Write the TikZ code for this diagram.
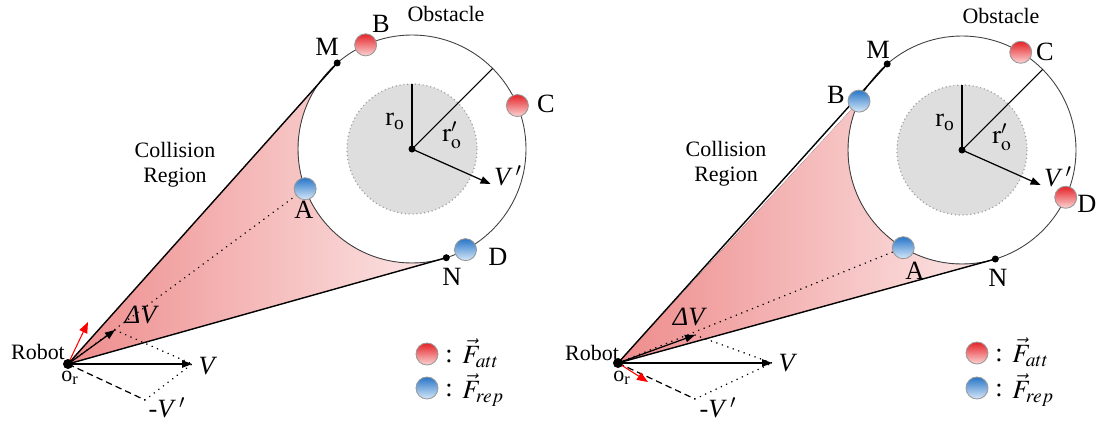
\documentclass[tikz,border=0pt]{standalone}
\usepackage{mathptmx}
\usepackage{fontspec}
\setmainfont{Liberation Serif}
\usetikzlibrary{arrows.meta,calc}
\definecolor{cregA}{RGB}{238,140,140}
\definecolor{cregB}{RGB}{252,232,232}
\definecolor{redtop}{RGB}{228,35,40}
\definecolor{redbot}{RGB}{252,212,212}
\definecolor{bluetop}{RGB}{40,118,200}
\definecolor{bluebot}{RGB}{215,232,248}
\definecolor{diskfill}{RGB}{222,222,222}
\tikzset{
  obst/.style={draw=black!75, line width=0.5pt},
  innerdisk/.style={fill=diskfill, draw=gray!75, dash pattern=on 0.6pt off 1.6pt, line width=0.7pt},
  cdot/.style={circle, fill=black, inner sep=0pt, minimum size=0.14cm},
  robotdot/.style={circle, fill=black, inner sep=0pt, minimum size=0.2cm},
  ball/.style={circle, inner sep=0pt, minimum size=0.44cm, draw=gray!80, line width=0.5pt},
  redball/.style={ball, top color=redtop, bottom color=redbot},
  blueball/.style={ball, top color=bluetop, bottom color=bluebot},
  edgeline/.style={line width=0.8pt, draw=black},
  thinline/.style={line width=0.6pt, draw=black},
  vec/.style={line width=0.7pt, draw=black, -{Triangle[length=0.2cm,width=0.15cm]}},
  redvec/.style={line width=0.6pt, draw=red, -{Triangle[length=0.22cm,width=0.17cm]}},
  dashline/.style={line width=0.7pt, dash pattern=on 0.13cm off 0.08cm},
  dots/.style={line width=0.9pt, dash pattern=on 0.1pt off 3.2pt, line cap=round},
  collision/.style={left color=cregA, right color=cregB},
  ptlabel/.style={font=\fontsize{15}{17}\selectfont},
  txt/.style={font=\fontsize{12.5}{14.5}\selectfont},
  legcolon/.style={font=\fontsize{15}{17}\selectfont, inner sep=0pt},
  legtxt/.style={font=\fontsize{15}{17}\selectfont, anchor=west, inner sep=0pt}
}
\begin{document}
\begin{tikzpicture}[x=0.02cm, y=-0.02cm]
\useasboundingbox (0,0) rectangle (1106,423);

% ================= LEFT =================
\coordinate (Lc) at (412,149);
\coordinate (Lr) at (68,364);
\coordinate (LMp) at ($(Lc)+(229:114)$);
\coordinate (LNp) at ($(Lc)+(72.5:114)$);
\fill[collision] (Lr) -- (LMp) arc[start angle=229, end angle=72.5, radius=114] -- cycle;
\draw[innerdisk] (Lc) circle[radius=65];
\draw[obst] (Lc) circle[radius=114];
\coordinate (Lrtop) at ($(Lc)+(-90:65)$);
\coordinate (Lrout) at ($(Lc)+(-45:114)$);
\coordinate (LVp) at ($(Lc)+(24:86)$);
\draw[thinline] (Lc) -- (Lrtop);
\draw[thinline] (Lc) -- (Lrout);
\draw[vec] (Lc) -- (LVp);
\node[cdot] (Lctr) at (Lc) {};
\node[cdot] (LM) at (LMp) {};
\node[cdot] (LN) at (LNp) {};
\draw[edgeline] (Lr) -- (LM.center);
\draw[edgeline] (Lr) -- (LN.center);
\coordinate (LAp) at ($(Lc)+(159.6:114)$);
\draw[dots] (Lr) -- (LAp);
\node[redball] (LB) at ($(Lc)+(246:114)$) {};
\node[redball] (LC) at ($(Lc)+(337.6:114)$) {};
\node[blueball] (LA) at (LAp) {};
\node[blueball] (LD) at ($(Lc)+(62:114)$) {};
% vectors
\coordinate (LdV) at ($(Lr)+(47,-34)$);
\coordinate (LV) at ($(Lr)+(124,0)$);
\coordinate (LmV) at ($(Lr)+(77,36)$);
\coordinate (Lred) at ($(Lr)+(20,-42)$);
\draw[dots] (LdV) -- (LV);
\draw[dots] (LmV) -- (LV);
\draw[dashline] (Lr) -- (LmV);
\draw[vec] (Lr) -- (LdV);
\draw[vec] (Lr) -- (LV);
\draw[redvec] (Lr) -- (Lred);
\node[robotdot] (Lrob) at (Lr) {};
% labels
\node[txt] (LObs) at (446,14) {Obstacle};
\node[ptlabel] (LBl) at (381,24) {B};
\node[ptlabel] (LMl) at (327,47) {M};
\node[ptlabel] (LCl) at (546,104) {C};
\node[ptlabel] (LAl) at (304,210) {A};
\node[ptlabel] (LDl) at (498,257) {D};
\node[ptlabel] (LNl) at (452,277) {N};
\node[ptlabel] (Lro) at (395,121) {r\textsubscript{o}};
\node[ptlabel] (Lrop) at (452,135) {$\mathrm{r}_{\mathrm{o}}'$};
\node[ptlabel] (LVl) at (508,176) {\textit{V}$\,'$};
\node[txt, align=center] (LColl) at (175,165) {Collision\\Region};
\node[txt] (LRob) at (38,352) {Robot};
\node[txt] (Lor) at (70,378) {o\textsubscript{r}};
\node[ptlabel] (LdVl) at (142,315) {\textit{ΔV}};
\node[ptlabel] (LVlab) at (208,366) {\textit{V}};
\node[ptlabel, inner sep=0pt] (LmVl) at (167,408) {\textit{-V}$\,'$};
\node[redball] (LLr) at (427,354) {};
\node[blueball] (LLb) at (427,388) {};
\node[legcolon] (LLrc) at (449,356) {:};
\node[legcolon] (LLbc) at (449,390) {:};
\node[legtxt] (LLrt) at (462,353) {$\vec{F}_{att}$};
\node[legtxt] (LLbt) at (462,390) {$\vec{F}_{rep}$};

% ================= RIGHT =================
\coordinate (Rc) at (962,150);
\coordinate (Rr) at (618,363);
\coordinate (RMp) at ($(Rc)+(229:114)$);
\coordinate (RNp) at ($(Rc)+(73:114)$);
\coordinate (RBp) at ($(Rc)+(205.4:114)$);
\fill[collision] (Rr) -- (RBp) arc[start angle=205.4, end angle=73, radius=114] -- cycle;
\draw[innerdisk] (Rc) circle[radius=65];
\draw[obst] (Rc) circle[radius=114];
\coordinate (Rrtop) at ($(Rc)+(-90:65)$);
\coordinate (Rrout) at ($(Rc)+(-45:114)$);
\coordinate (RVp) at ($(Rc)+(24:86)$);
\draw[thinline] (Rc) -- (Rrtop);
\draw[thinline] (Rc) -- (Rrout);
\draw[vec] (Rc) -- (RVp);
\node[cdot] (Rctr) at (Rc) {};
\node[cdot] (RM) at (RMp) {};
\node[cdot] (RN) at (RNp) {};
\draw[edgeline] (Rr) -- (RM.center);
\draw[edgeline] (Rr) -- (RN.center);
\coordinate (RAp) at ($(Rc)+(121:114)$);
\draw[dots] (Rr) -- (RAp);
\node[blueball] (RB) at (RBp) {};
\node[redball] (RC) at ($(Rc)+(301:114)$) {};
\node[blueball] (RA) at (RAp) {};
\node[redball] (RD) at ($(Rc)+(24.5:114)$) {};
% vectors
\coordinate (RdV) at ($(Rr)+(77,-28)$);
\coordinate (RV) at ($(Rr)+(154,0)$);
\coordinate (RmV) at ($(Rr)+(77,36)$);
\coordinate (Rred) at ($(Rr)+(30,19)$);
\draw[dots] (RdV) -- (RV);
\draw[dots] (RmV) -- (RV);
\draw[dashline] (Rr) -- (RmV);
\draw[vec] (Rr) -- (RdV);
\draw[vec] (Rr) -- (RV);
\draw[redvec] (Rr) -- (Rred);
\node[robotdot] (Rrob) at (Rr) {};
% labels
\node[txt] (RObs) at (1001,16) {Obstacle};
\node[ptlabel] (RBl) at (836,95) {B};
\node[ptlabel] (RMl) at (878,50) {M};
\node[ptlabel] (RCl) at (1045,52) {C};
\node[ptlabel] (RAl) at (915,271) {A};
\node[ptlabel] (RDl) at (1087,204) {D};
\node[ptlabel] (RNl) at (998,278) {N};
\node[ptlabel] (Rro) at (945,122) {r\textsubscript{o}};
\node[ptlabel] (Rrop) at (1002,137) {$\mathrm{r}_{\mathrm{o}}'$};
\node[ptlabel] (RVl) at (1058,177) {\textit{V}$\,'$};
\node[txt, align=center] (RColl) at (726,164) {Collision\\Region};
\node[txt] (RRob) at (592,353) {Robot};
\node[txt] (Ror) at (622,378) {o\textsubscript{r}};
\node[ptlabel] (RdVl) at (690,317) {\textit{ΔV}};
\node[ptlabel] (RVlab) at (788,363) {\textit{V}};
\node[ptlabel, inner sep=0pt] (RmVl) at (718,408) {\textit{-V}$\,'$};
\node[redball] (RLr) at (977,353) {};
\node[blueball] (RLb) at (977,388) {};
\node[legcolon] (RLrc) at (999,355) {:};
\node[legcolon] (RLbc) at (999,390) {:};
\node[legtxt] (RLrt) at (1012,352) {$\vec{F}_{att}$};
\node[legtxt] (RLbt) at (1012,390) {$\vec{F}_{rep}$};
\end{tikzpicture}
\end{document}
